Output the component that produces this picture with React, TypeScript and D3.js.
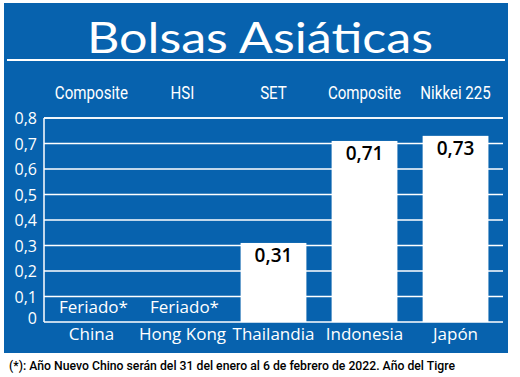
import React from "react";
import * as d3 from "d3";

const title = "Bolsas Asiáticas";
const categories = ["China", "Hong Kong", "Thailandia", "Indonesia", "Japón"];
const indices = ["Composite", "HSI", "SET", "Composite", "Nikkei 225"];
const values: (number | null)[] = [null, null, 0.31, 0.71, 0.73];
const holidayLabel = "Feriado*";
const yTicks = [0, 0.1, 0.2, 0.3, 0.4, 0.5, 0.6, 0.7, 0.8];
const footnote = "(*): Año Nuevo Chino serán del 31 del enero al 6 de febrero de 2022. Año del Tigre";

const W = 520;
const H = 377;
const BLUE = "#0762ae";
const fmt = (v: number) => (v === 0 ? "0" : v.toFixed(v * 10 === Math.round(v * 10) ? 1 : 2).replace(".", ","));

export default function App() {
  const x0 = 44, x1 = 503, yTop = 118, yBot = 322;
  const x = d3.scaleBand<string>().domain(categories).range([x0, x1]).paddingInner(0.277).paddingOuter(0.16);
  const y = d3.scaleLinear().domain([0, 0.8]).range([yBot, yTop]);
  const bw = x.bandwidth();
  const cond = "Roboto, 'Liberation Sans', sans-serif";
  const hum = "'Open Sans', 'Noto Sans', sans-serif";
  return (
    <svg width={W} height={H} style={{ position: "absolute", left: 0, top: 0, background: "#fff" }}>
      <rect x={4} y={3} width={504} height={350} fill={BLUE} />
      <text x={260} y={53} textAnchor="middle" fill="#fff" fontFamily="Lato, 'Open Sans', sans-serif" fontSize={43} textLength={346} lengthAdjust="spacingAndGlyphs">{title}</text>
      <line x1={7} x2={505} y1={60} y2={60} stroke="#fff" strokeWidth={2} />
      {indices.map((s, i) => {
        const cx = (x(categories[i]) as number) + bw / 2;
        return (
          <text key={"i" + i} transform={`translate(${cx},99) scale(0.84,1)`} textAnchor="middle" fill="#fff" fontFamily={cond} fontSize={18}>{s}</text>
        );
      })}
      {yTicks.map((t) => (
        <g key={"t" + t}>
          {t > 0 && <line x1={x0} x2={x1} y1={y(t)} y2={y(t)} stroke="#fff" strokeWidth={1.5} />}
          <text x={37} y={t === 0 ? y(t) + 2 : y(t) + 6} textAnchor="end" fill="#fff" fontFamily={hum} fontSize={16}>{fmt(t)}</text>
        </g>
      ))}
      {categories.map((c, i) => {
        const v = values[i];
        const bx = x(c) as number;
        if (v === null) {
          return (
            <text key={"b" + i} x={bx + bw / 2 + 2} y={313} textAnchor="middle" fill="#fff" fontFamily={hum} fontSize={17}>{holidayLabel}</text>
          );
        }
        return (
          <g key={"b" + i}>
            <rect x={bx} y={y(v)} width={bw} height={yBot - y(v)} fill="#fff" />
            <text x={bx + bw / 2} y={y(v) + 19} textAnchor="middle" fill="#000" fontFamily={hum} fontWeight={600} fontSize={19}>{fmt(v)}</text>
          </g>
        );
      })}
      <line x1={x0} x2={x0} y1={yTop} y2={yBot} stroke="#fff" strokeWidth={1.5} />
      <line x1={x0} x2={x1} y1={yBot} y2={yBot} stroke="#fff" strokeWidth={1.5} />
      <line x1={x0} x2={x1} y1={yTop} y2={yTop} stroke="#fff" strokeWidth={1.5} />
      {categories.map((c, i) => (
        <text key={"c" + i} x={(x(c) as number) + bw / 2} y={340} textAnchor="middle" fill="#fff" fontFamily={hum} fontSize={17}>{c}</text>
      ))}
      <text x={9} y={370} fill="#000" fontFamily={cond} fontWeight={500} fontSize={13} textLength={446} lengthAdjust="spacingAndGlyphs">{footnote}</text>
    </svg>
  );
}
